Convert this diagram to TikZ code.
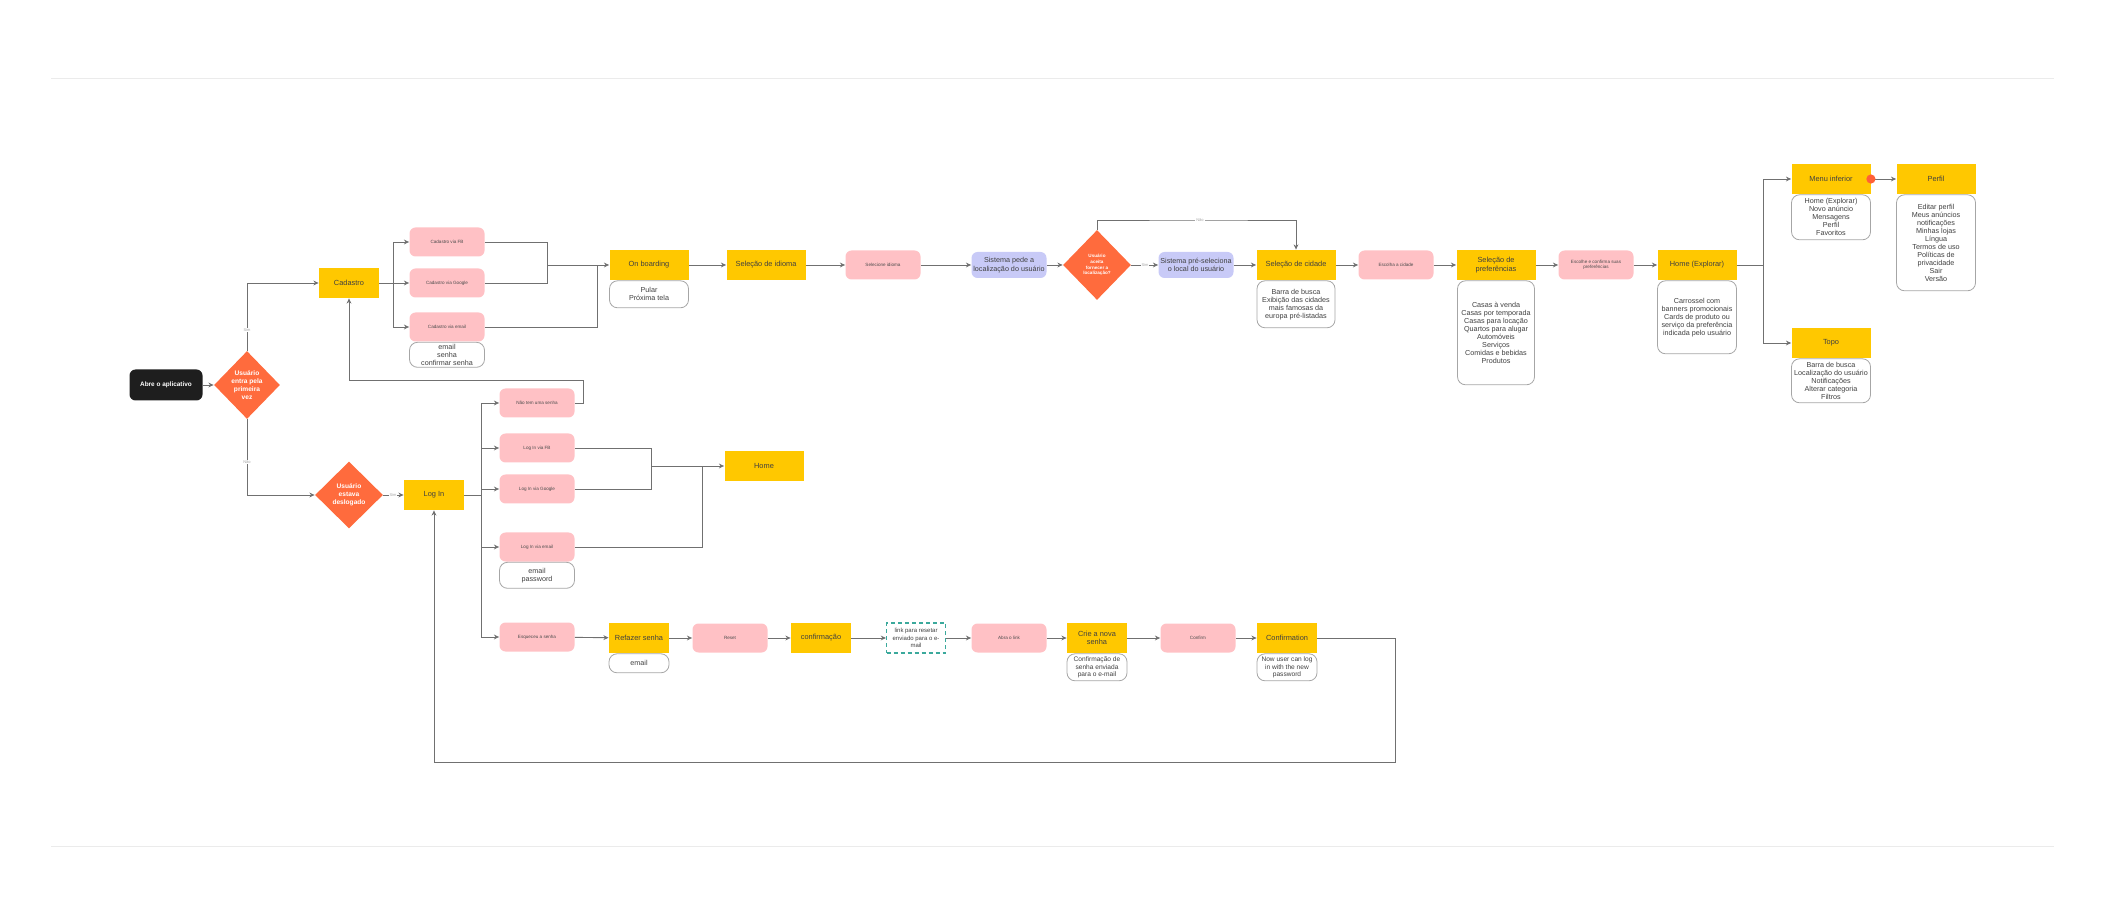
\documentclass[tikz,border=0pt]{standalone}
\usepackage{fontspec}
\setmainfont{Liberation Sans}
\usepackage{tikz}
\usetikzlibrary{arrows.meta,calc,positioning,shapes.geometric}

\definecolor{amarelo}{HTML}{FFC800}
\definecolor{rosa}{HTML}{FFC1C5}
\definecolor{laranja}{HTML}{FF6B3D}
\definecolor{lilas}{HTML}{C8CAF7}
\definecolor{escuro}{HTML}{1E1E1E}
\definecolor{linha}{HTML}{707070}
\definecolor{verde}{HTML}{3BA99C}

\begin{document}
\begin{tikzpicture}[x=0.5pt,y=-0.5pt,
  tela/.style={fill=amarelo,minimum width=39.5pt,minimum height=15pt,inner sep=0.5pt,align=center,text=black!75,font=\fontsize{3.7}{4.3}\selectfont},
  telap/.style={tela,minimum width=30pt},
  acao/.style={fill=rosa,rounded corners=3pt,minimum width=37.5pt,minimum height=14.5pt,inner sep=0.5pt,align=center,text=black!70,font=\fontsize{2.3}{2.8}\selectfont},
  sistema/.style={fill=lilas,rounded corners=3pt,minimum width=37.5pt,minimum height=13pt,inner sep=0.5pt,align=center,text=black!75,font=\fontsize{3.6}{4.2}\selectfont},
  decisao/.style={diamond,fill=laranja,inner sep=0pt,minimum width=33pt,minimum height=34pt,align=center,text=white,font=\bfseries\fontsize{3.3}{4}\selectfont},
  lista/.style={draw=black!35,line width=0.4pt,fill=white,rounded corners=4pt,inner sep=0.8pt,align=center,text=black!75,font=\fontsize{3.6}{4}\selectfont},
  seta/.style={draw=linha,line width=0.45pt,-{Stealth[length=2.6pt,width=2.4pt]}},
  traco/.style={draw=linha,line width=0.45pt},
  rotulo/.style={fill=white,inner sep=0.5pt,text=black!35,font=\fontsize{2}{2.4}\selectfont}]
  \useasboundingbox (0,0) rectangle (2108,924);
  \draw[black!8,line width=0.4pt] (51,78) -- (2054,78);
  \draw[black!8,line width=0.4pt] (51,846) -- (2054,846);

  \node[fill=escuro,rounded corners=3pt,minimum width=36.5pt,minimum height=15.5pt,text=white,font=\bfseries\fontsize{3.2}{4}\selectfont] (abre) at (166,385) {Abre o aplicativo};
  \node[decisao] (primeira) at (247,385) {Usuário\\entra pela\\primeira\\vez};

  \node[telap] (cad) at (349,283) {Cadastro};
  \node[acao] (cadfb) at (447,242) {Cadastro via FB};
  \node[acao] (cadgo) at (447,283) {Cadastro via Google};
  \node[acao] (cadem) at (447,327) {Cadastro via email};
  \node[lista,minimum width=37.5pt,minimum height=12.5pt,below=0pt of cadem] (cademl) {email\\senha\\confirmar senha};

  \node[tela] (onb) at (649,265) {On boarding};
  \node[lista,minimum width=39.5pt,minimum height=13.5pt,below=0pt of onb] (onbl) {Pular\\Próxima tela};
  \node[tela] (idioma) at (766,265) {Seleção de idioma};
  \node[acao] (selid) at (883,265) {Selecione idioma};
  \node[sistema] (pede) at (1009,265) {Sistema pede a\\localização do usuário};
  \node[decisao,minimum width=34pt,minimum height=35pt,font=\bfseries\fontsize{2.3}{2.9}\selectfont] (local) at (1097,265) {Usuário\\aceita\\fornecer a\\localização?};
  \node[sistema] (pre) at (1196,265) {Sistema pré-seleciona\\o local do usuário};
  \node[tela] (cid) at (1296,265) {Seleção de cidade};
  \node[lista,minimum width=39pt,minimum height=23.5pt,below=0pt of cid] (cidl) {Barra de busca\\Exibição das cidades\\mais famosas da\\europa pré-listadas};
  \node[acao] (esc) at (1396,265) {Escolha a cidade};
  \node[tela] (pref) at (1496,265) {Seleção de\\preferências};
  \node[lista,minimum width=38.5pt,minimum height=52pt,below=0pt of pref] (prefl) {Casas à venda\\Casas por temporada\\Casas para locação\\Quartos para alugar\\Automóveis\\Serviços\\Comidas e bebidas\\Produtos};
  \node[acao] (escpref) at (1596,265) {Escolhe e confirma suas\\preferências};
  \node[tela] (homex) at (1697,265) {Home (Explorar)};
  \node[lista,minimum width=39.5pt,minimum height=36.5pt,below=0pt of homex] (homexl) {Carrossel com\\banners promocionais\\Cards de produto ou\\serviço da preferência\\indicada pelo usuário};

  \node[tela] (menu) at (1831,179) {Menu inferior};
  \node[lista,minimum width=39.5pt,minimum height=22.5pt,below=0pt of menu] (menul) {Home (Explorar)\\Novo anúncio\\Mensagens\\Perfil\\Favoritos};
  \node[tela] (perfil) at (1936,179) {Perfil};
  \node[lista,minimum width=39.5pt,minimum height=48pt,below=0pt of perfil] (perfill) {Editar perfil\\Meus anúncios\\notificações\\Minhas lojas\\Língua\\Termos de uso\\Políticas de\\privacidade\\Sair\\Versão};
  \node[tela] (topo) at (1831,343) {Topo};
  \node[lista,minimum width=39.5pt,minimum height=22pt,below=0pt of topo] (topol) {Barra de busca\\Localização do usuário\\Notificações\\Alterar categoria\\Filtros};

  \node[decisao,minimum width=34pt,minimum height=33.5pt] (deslog) at (349,495) {Usuário\\estava\\deslogado};
  \node[telap] (login) at (434,495) {Log In};
  \node[acao] (nts) at (537,403) {Não tem uma senha};
  \node[acao] (lifb) at (537,448) {Log In via FB};
  \node[acao] (ligo) at (537,489) {Log In via Google};
  \node[acao] (liem) at (537,547) {Log In via email};
  \node[lista,minimum width=37.5pt,minimum height=13pt,below=0pt of liem] (lieml) {email\\password};
  \node[tela] (home) at (764,466) {Home};

  \node[acao] (esq) at (537,637) {Esqueceu a senha};
  \node[telap] (refaz) at (639,638) {Refazer senha};
  \node[lista,minimum width=30pt,minimum height=9.5pt,below=0pt of refaz] (refazl) {email};
  \node[acao] (reset) at (730,638) {Reset};
  \node[telap] (conf) at (821,638) {confirmação};
  \node[draw=verde,dash pattern=on 2pt off 1.5pt,line width=0.6pt,minimum width=29.5pt,minimum height=15pt,inner sep=0.5pt,align=center,text=black!75,font=\fontsize{3}{3.8}\selectfont] (link) at (916,638) {link para resetar\\enviado para o e-\\mail};
  \node[acao] (abra) at (1009,638) {Abra o link};
  \node[telap] (crie) at (1097,638) {Crie a nova\\senha};
  \node[lista,minimum width=30pt,minimum height=13.5pt,font=\fontsize{3.3}{3.9}\selectfont,below=0pt of crie] (criel) {Confirmação de\\senha enviada\\para o e-mail};
  \node[acao] (confirm) at (1198,638) {Confirm};
  \node[telap] (cfm) at (1287,638) {Confirmation};
  \node[lista,minimum width=30pt,minimum height=13.5pt,font=\fontsize{3.3}{3.9}\selectfont,below=0pt of cfm] (cfml) {Now user can log\\in with the new\\password};

  \coordinate (fk1) at (393,283);
  \coordinate (mg1) at (547,265);
  \coordinate (mg2) at (597,265);
  \coordinate (volta) at (1200,220);
  \coordinate (fk2) at (481,495);
  \coordinate (mg3) at (651,466);
  \coordinate (mg4) at (702,466);
  \coordinate (sobe) at (583,380);
  \coordinate (fk3) at (1763,265);
  \coordinate (baixo) at (1395,762);

  \draw[seta] (abre) -- (primeira);
  \draw[seta] (primeira.north) |- (cad.west);
  \draw[seta] (primeira.south) |- (deslog.west);
  \draw[traco] (cad.east) -- (fk1);
  \draw[seta] (fk1) |- (cadfb.west);
  \draw[seta] (fk1) -- (cadgo.west);
  \draw[seta] (fk1) |- (cadem.west);
  \draw[traco] (cadfb.east) -| (mg1);
  \draw[traco] (cadgo.east) -| (mg1);
  \draw[traco] (cadem.east) -| (mg2);
  \draw[seta] (mg1) -- (onb.west);

  \draw[seta] (onb) -- (idioma);
  \draw[seta] (idioma) -- (selid);
  \draw[seta] (selid) -- (pede);
  \draw[seta] (pede) -- (local);
  \draw[seta] (local) -- (pre);
  \draw[seta] (local.north) |- (volta) -| (cid.north);
  \draw[seta] (pre) -- (cid);
  \draw[seta] (cid) -- (esc);
  \draw[seta] (esc) -- (pref);
  \draw[seta] (pref) -- (escpref);
  \draw[seta] (escpref) -- (homex);
  \draw[traco] (homex.east) -- (fk3);
  \draw[seta] (fk3) |- (menu.west);
  \draw[seta] (fk3) |- (topo.west);
  \draw[seta] (menu) -- (perfil);
  \fill[laranja!90!red] (menu.east) circle (2.3pt);

  \draw[seta] (deslog) -- (login);
  \draw[traco] (login.east) -- (fk2);
  \draw[seta] (fk2) |- (nts.west);
  \draw[seta] (fk2) |- (lifb.west);
  \draw[seta] (fk2) |- (ligo.west);
  \draw[seta] (fk2) |- (liem.west);
  \draw[seta] (fk2) |- (esq.west);
  \draw[traco] (lifb.east) -| (mg3);
  \draw[traco] (ligo.east) -| (mg3);
  \draw[traco] (liem.east) -| (mg4);
  \draw[seta] (mg3) -- (home.west);
  \draw[seta] (nts.east) -| (sobe) -| (cad.south);

  \draw[seta] (esq) -- (refaz);
  \draw[seta] (refaz) -- (reset);
  \draw[seta] (reset) -- (conf);
  \draw[seta] (conf) -- (link);
  \draw[seta] (link) -- (abra);
  \draw[seta] (abra) -- (crie);
  \draw[seta] (crie) -- (confirm);
  \draw[seta] (confirm) -- (cfm);
  \draw[seta] (cfm.east) -| (baixo) -| (login.south);

  \node[rotulo] (sim1) at (247,330) {Sim};
  \node[rotulo] (nao1) at (247,462) {Não};
  \node[rotulo] (sim2) at (393,495) {Sim};
  \node[rotulo] (sim3) at (1145,265) {Sim};
  \node[rotulo] (nao2) at (volta) {Não};
\end{tikzpicture}
\end{document}
